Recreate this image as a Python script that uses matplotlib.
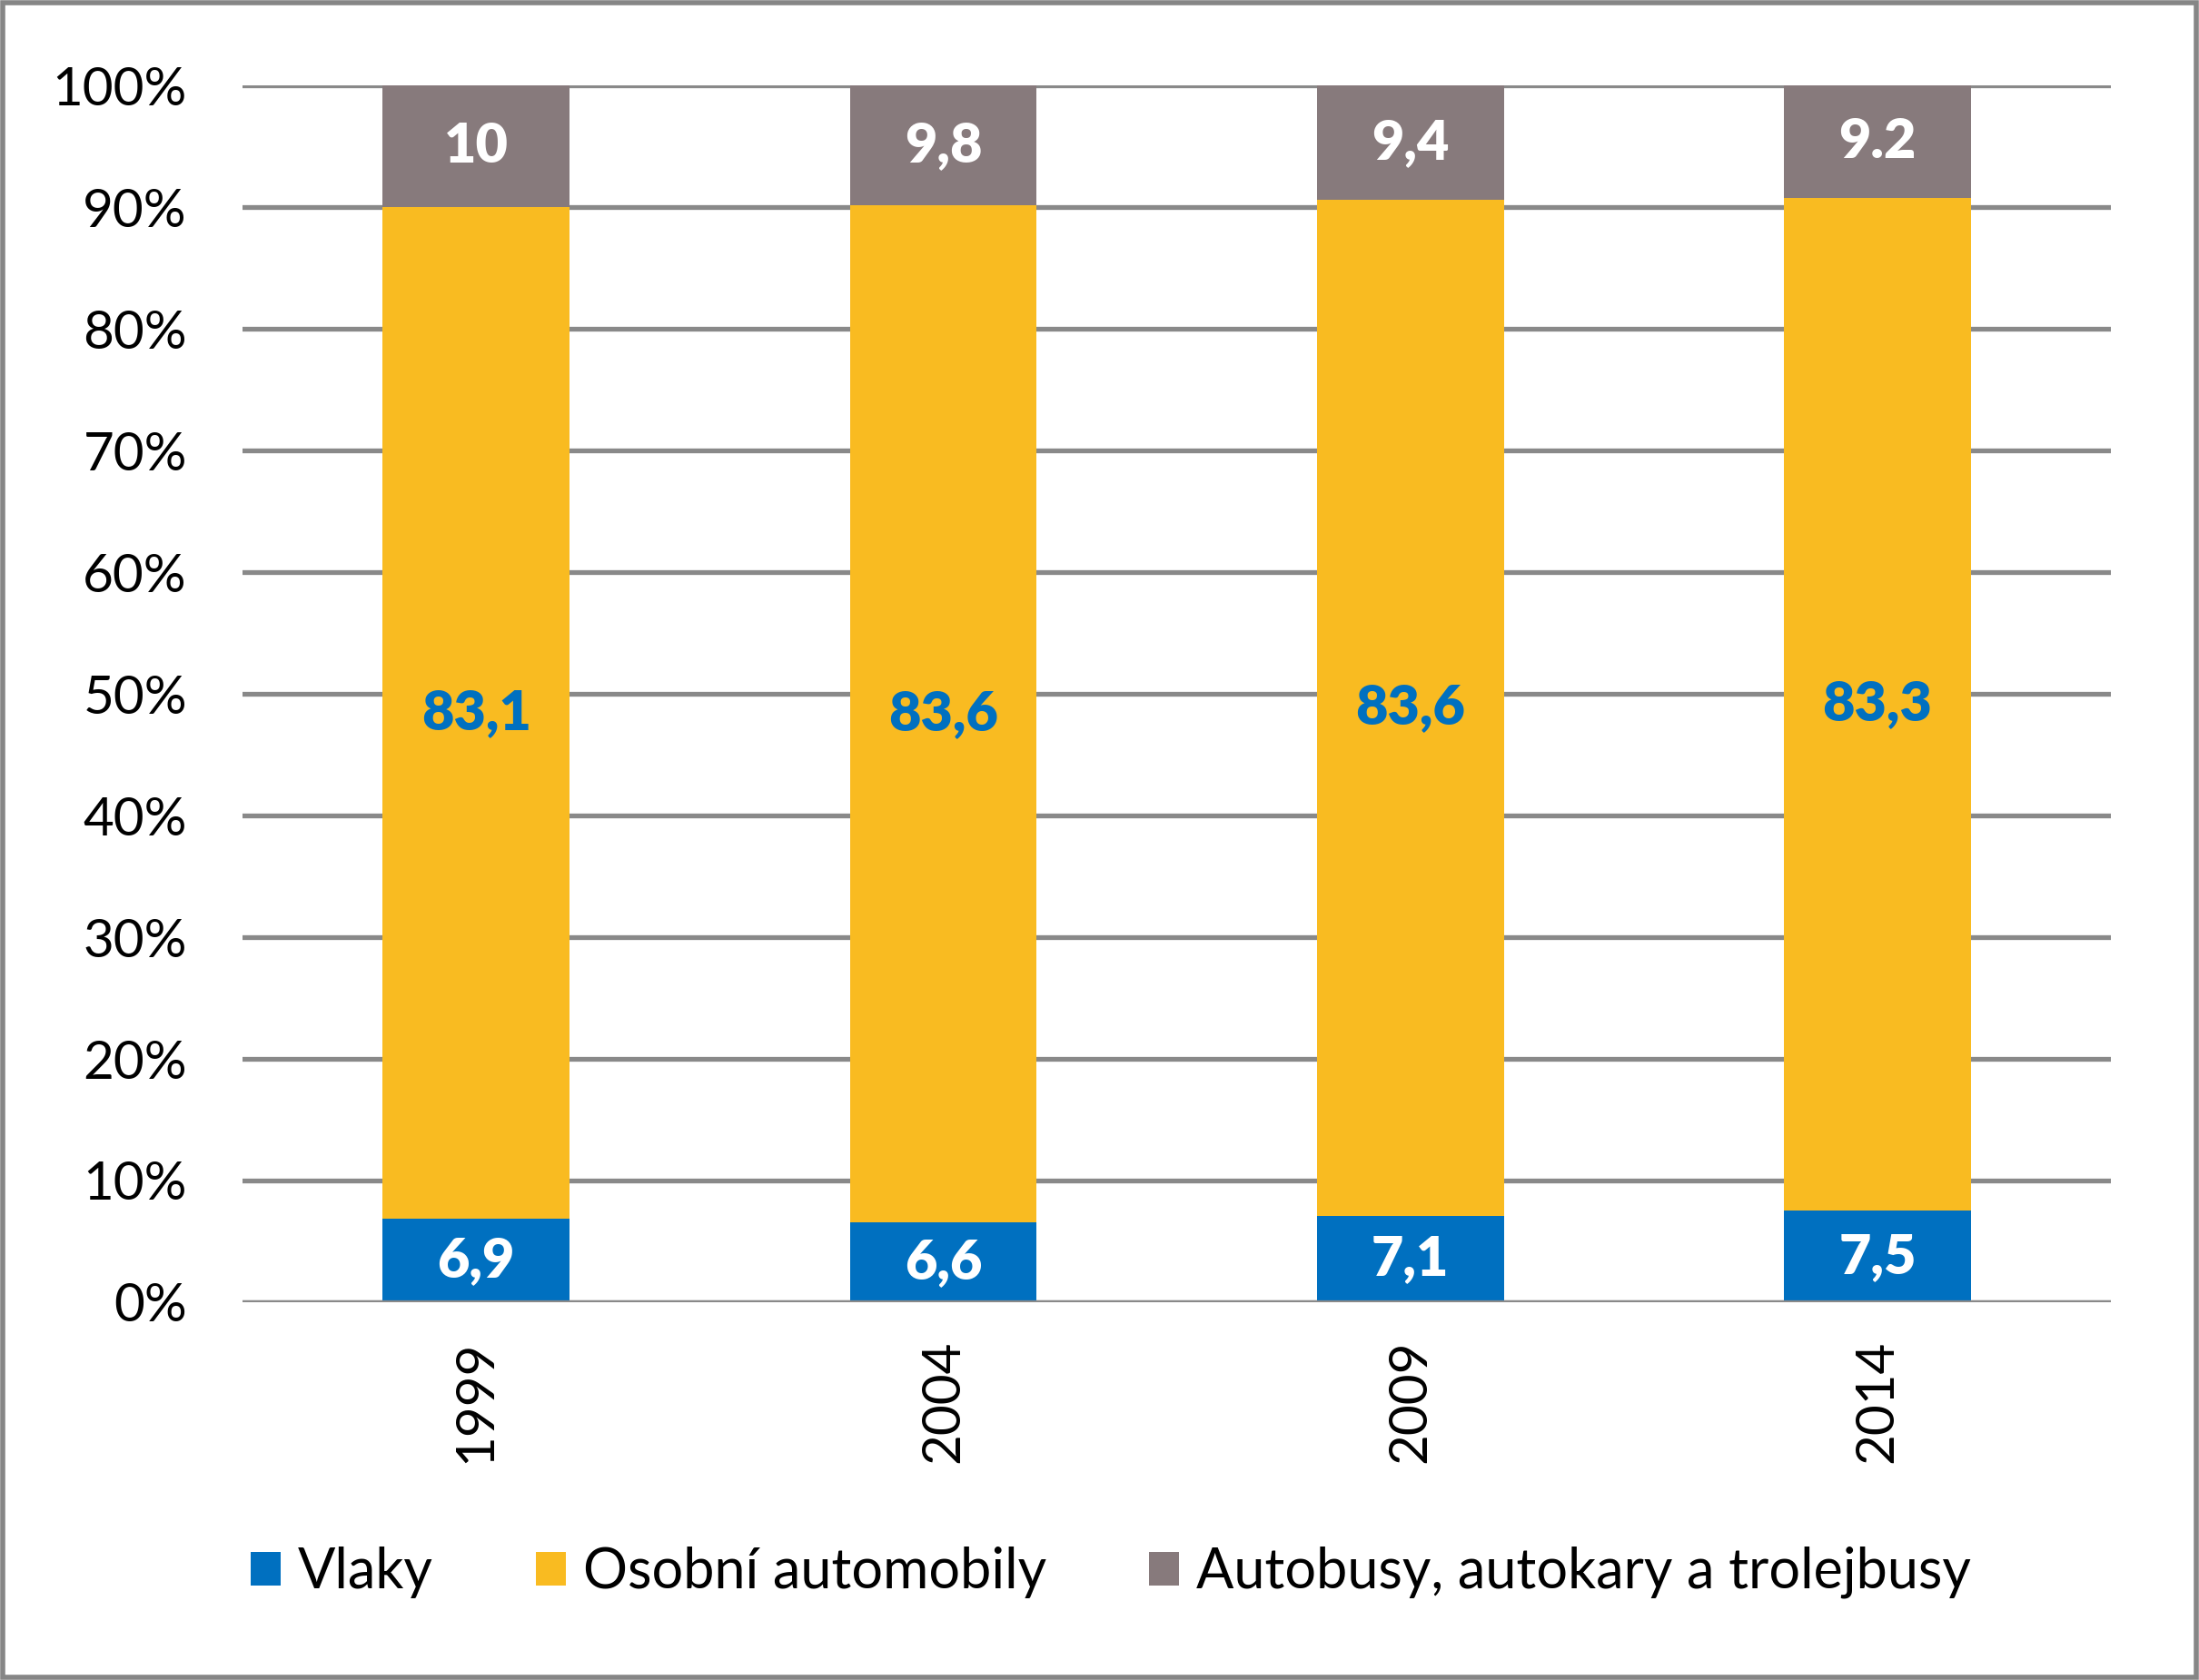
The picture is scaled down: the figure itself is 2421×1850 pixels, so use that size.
import matplotlib
matplotlib.use("Agg")
import matplotlib.pyplot as plt
from matplotlib.patches import Rectangle
import numpy as np

plt.rcParams['font.family'] = ['Lato', 'DejaVu Sans']

years = ['1999', '2004', '2009', '2014']
vlaky = [6.9, 6.6, 7.1, 7.5]
osobni = [83.1, 83.6, 83.6, 83.3]
autobusy = [10.0, 9.8, 9.4, 9.2]
vlaky_lbl = ['6,9', '6,6', '7,1', '7,5']
osobni_lbl = ['83,1', '83,6', '83,6', '83,3']
autobusy_lbl = ['10', '9,8', '9,4', '9.2']
series_names = ['Vlaky', 'Osobní automobily', 'Autobusy, autokary a trolejbusy']
yticks = [0, 10, 20, 30, 40, 50, 60, 70, 80, 90, 100]

c_blue = '#0070C0'
c_yellow = '#F9BB21'
c_gray = '#877A7C'
grid_c = '#898989'

fig = plt.figure(figsize=(24.21, 18.5), dpi=100)
ax = fig.add_axes([0.1103, 0.2249, 0.8497, 0.7241])

v = np.array(vlaky); o = np.array(osobni); a = np.array(autobusy)
tot = v + o + a
vs = v / tot * 100; os_ = o / tot * 100; as_ = a / tot * 100
x = np.arange(len(years))
w = 0.40

ax.set_axisbelow(True)
for yt in yticks:
    ax.axhline(yt, color=grid_c, lw=3.8, zorder=0)

b1 = ax.bar(x, vs, w, color=c_blue, label=series_names[0], zorder=2)
b2 = ax.bar(x, os_, w, bottom=vs, color=c_yellow, label=series_names[1], zorder=2)
b3 = ax.bar(x, as_, w, bottom=vs + os_, color=c_gray, label=series_names[2], zorder=2)
ax.axhline(0, color=grid_c, lw=3.8, zorder=3)

lbl_kw = dict(ha='center', va='center', fontsize=44, fontweight='heavy', zorder=4)
for i in range(len(years)):
    ax.text(x[i], vs[i] / 2, vlaky_lbl[i], color='white', **lbl_kw)
    ax.text(x[i], vs[i] + os_[i] / 2, osobni_lbl[i], color=c_blue, **lbl_kw)
    ax.text(x[i], vs[i] + os_[i] + as_[i] / 2, autobusy_lbl[i], color='white', **lbl_kw)

ax.set_xlim(-0.5, len(years) - 0.5)
ax.set_ylim(0, 100)
ax.set_yticks(yticks)
ax.set_yticklabels([f'{t}%' for t in yticks])
ax.set_xticks(x)
ax.set_xticklabels(years, rotation=90)
ax.tick_params(axis='y', length=0, pad=44, labelsize=42)
ax.tick_params(axis='x', length=0, pad=30, labelsize=42)
for s in ax.spines.values():
    s.set_visible(False)

leg = fig.legend(handles=[b1, b2, b3], labels=series_names, loc='center',
                 bbox_to_anchor=(0.505, 0.064), ncol=3, frameon=False, fontsize=44,
                 handlelength=0.55, handleheight=0.55, handletextpad=0.3, columnspacing=1.85)

fig.patches.append(Rectangle((0.0012, 0.0015), 0.9976, 0.997, transform=fig.transFigure,
                             fill=False, edgecolor='#868686', lw=4))

fig.savefig('out.png', dpi=100)
